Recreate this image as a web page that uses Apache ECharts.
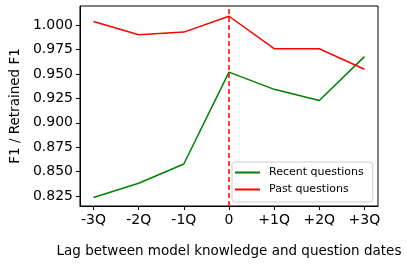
<!DOCTYPE html>
<html><head><meta charset="utf-8">
<script src="https://cdn.jsdelivr.net/npm/echarts@6/dist/echarts.min.js"></script>
<style>html,body{margin:0;padding:0;background:#fff}#c{width:407px;height:266px}</style>
</head><body><div id="c"></div>
<script>
const xPositions = [-3, -2, -1, 0, 1, 2, 3];
const xTickLabels = ['-3Q', '-2Q', '-1Q', '0', '+1Q', '+2Q', '+3Q'];
const recentQuestions = [0.8236, 0.8382, 0.8579, 0.9519, 0.9343, 0.9229, 0.9678];
const pastQuestions = [1.0037, 0.9902, 0.9929, 1.0091, 0.9759, 0.9759, 0.9549];
const yTicks = [0.825, 0.850, 0.875, 0.900, 0.925, 0.950, 0.975, 1.000];

const font = 'DejaVu Sans';
const chart = echarts.init(document.getElementById('c'), null, {renderer: 'canvas'});
chart.setOption({
  animation: false,
  backgroundColor: '#fff',
  grid: {left: 70, right: 29, top: 6, bottom: 60, show: true, borderColor: '#000', borderWidth: 1, backgroundColor: 'transparent'},
  xAxis: {
    type: 'value', min: -3.3, max: 3.3,
    name: 'Lag between model knowledge and question dates',
    nameLocation: 'middle', nameGap: 38,
    nameTextStyle: {fontFamily: font, fontSize: 13.5, color: '#000'},
    axisLine: {show: true, onZero: false, lineStyle: {color: '#000', width: 1}},
    axisTick: {show: true, inside: false, length: 4, lineStyle: {color: '#000'}, customValues: xPositions},
    axisLabel: {fontFamily: font, fontSize: 14, color: '#000', margin: 7, customValues: xPositions,
      formatter: v => xTickLabels[xPositions.indexOf(Math.round(v))]},
    splitLine: {show: false}
  },
  yAxis: {
    type: 'value', min: 0.8149, max: 1.0196,
    name: 'F1 / Retrained F1',
    nameLocation: 'middle', nameGap: 51,
    nameTextStyle: {fontFamily: font, fontSize: 13.5, color: '#000'},
    axisLine: {show: true, onZero: false, lineStyle: {color: '#000', width: 1}},
    axisTick: {show: true, inside: false, length: 4, lineStyle: {color: '#000'}, customValues: yTicks},
    axisLabel: {fontFamily: font, fontSize: 14, color: '#000', margin: 7, customValues: yTicks,
      formatter: v => v.toFixed(3)},
    splitLine: {show: false}
  },
  legend: {
    left: 232, top: 162, orient: 'vertical',
    itemWidth: 25, itemHeight: 2, itemGap: 4,
    backgroundColor: '#fff', borderColor: '#ccc', borderWidth: 1, borderRadius: 3,
    padding: [4, 9, 6, 3],
    textStyle: {fontFamily: font, fontSize: 11, color: '#000', lineHeight: 13, padding: [0, 0, 0, 4]},
    icon: 'rect',
    data: ['Recent questions', 'Past questions']
  },
  series: [
    {name: 'Recent questions', type: 'line', data: xPositions.map((x, i) => [x, recentQuestions[i]]),
     showSymbol: false, symbol: 'none', lineStyle: {color: '#008000', width: 1.5}, itemStyle: {color: '#008000'}, z: 3},
    {name: 'Past questions', type: 'line', data: xPositions.map((x, i) => [x, pastQuestions[i]]),
     showSymbol: false, symbol: 'none', lineStyle: {color: '#ff0000', width: 1.5}, itemStyle: {color: '#ff0000'}, z: 4,
     markLine: {silent: true, symbol: 'none', label: {show: false},
       lineStyle: {color: '#ff0000', type: [5, 3], width: 1.5},
       data: [{xAxis: 0}]}}
  ]
});
</script></body></html>
